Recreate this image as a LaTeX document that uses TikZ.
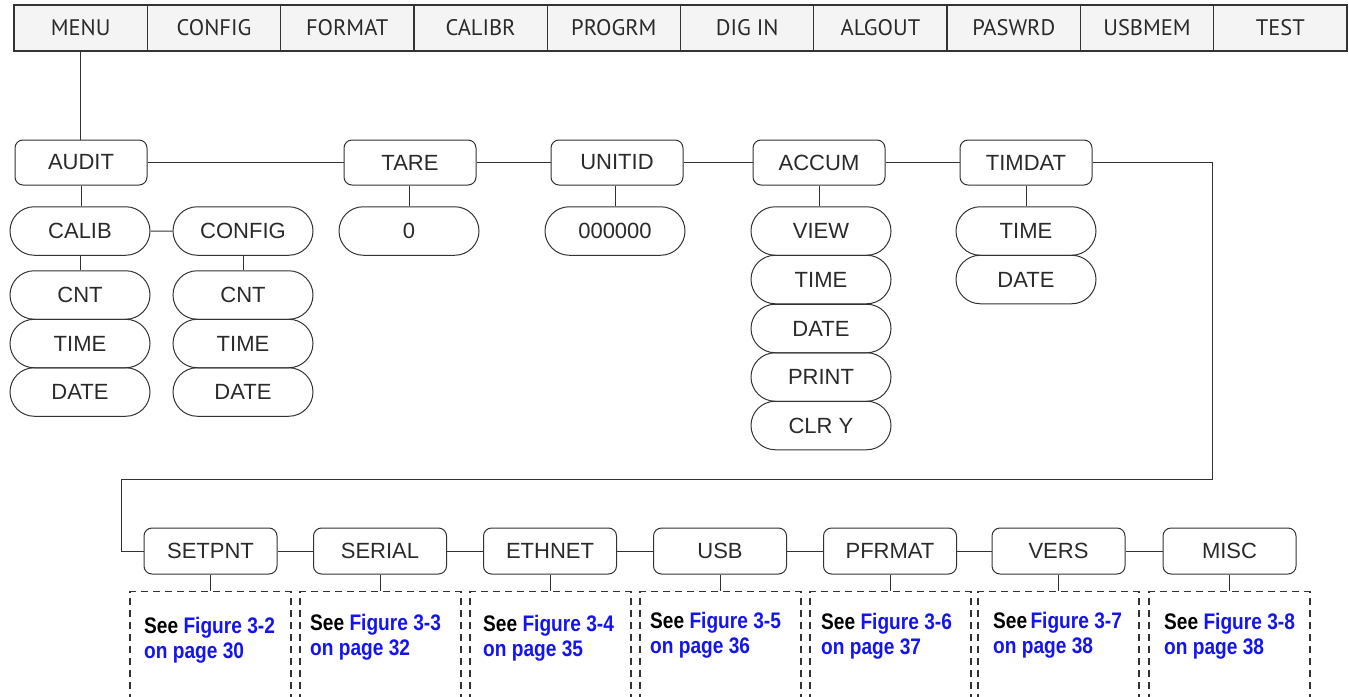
\documentclass[tikz,border=0pt]{standalone}
\usepackage{fontspec}
\setmainfont{Liberation Sans}
\newfontfamily\barfont{PT Sans}
\newfontfamily\seefont[FakeStretch=0.85]{Liberation Sans}
\usetikzlibrary{shapes.misc}
\definecolor{ln}{HTML}{333333}
\definecolor{lnk}{HTML}{1414F0}
\definecolor{barbg}{HTML}{F4F4F4}
\definecolor{txt}{HTML}{2A2A2A}
\begin{document}
\begin{tikzpicture}[x=1pt,y=-1pt,
 cell/.style={draw=ln, line width=1.3pt, fill=barbg, minimum width=133.3pt, minimum height=46pt, inner sep=0pt, font=\barfont\fontsize{22.5}{24}\selectfont, text=txt},
 tbox/.style={draw=ln, line width=1pt, rounded corners=8pt, minimum width=132pt, minimum height=45pt, inner sep=0pt, font=\fontsize{22}{24}\selectfont, text=txt},
 pill/.style={draw=ln, line width=1pt, rounded rectangle, minimum width=140pt, minimum height=48.5pt, inner sep=0pt, font=\fontsize{22}{24}\selectfont, text=txt},
 wire/.style={draw=ln, line width=1pt},
 refbox/.style={draw=ln, dashed, dash pattern=on 7pt off 5pt, line width=1.1pt, minimum width=161pt, minimum height=140pt, anchor=north, inner sep=0pt},
 seetext/.style={anchor=north west, inner sep=0pt, align=left, font=\seefont\bfseries\fontsize{22.5}{25}\selectfont, text=lnk}
]
\useasboundingbox (0,0) rectangle (1349,696);
% top menu bar
\foreach \t [count=\i] in {MENU,CONFIG,FORMAT,CALIBR,PROGRM,DIG IN,ALGOUT,PASWRD,USBMEM,TEST}
  \node[cell] (m\i) at ({14+133.3*(\i-0.5)},28) {\t};
% first level
\node[tbox] (audit)  at (81,162.5)  {AUDIT};
\node[tbox] (tare)   at (410,162.5) {TARE};
\node[tbox] (unitid) at (617,162.5) {UNITID};
\node[tbox] (accum)  at (819,162.5) {ACCUM};
\node[tbox] (timdat) at (1026,162.5) {TIMDAT};
% audit subtree
\node[pill] (calib)  at (80,231)    {CALIB};
\node[pill] (config) at (243,231)   {CONFIG};
\node[pill] (cnta)   at (80,295)    {CNT};
\node[pill] (timea)  at (80,343.5)  {TIME};
\node[pill] (datea)  at (80,392)    {DATE};
\node[pill] (cntb)   at (243,295)   {CNT};
\node[pill] (timeb)  at (243,343.5) {TIME};
\node[pill] (dateb)  at (243,392)   {DATE};
% tare, unitid
\node[pill] (tarev)  at (409,231)   {0};
\node[pill] (unitv)  at (615,231)   {000000};
% accum
\node[pill] (view)   at (821,231)   {VIEW};
\node[pill] (acct)   at (821,279.5) {TIME};
\node[pill] (accd)   at (821,328.5) {DATE};
\node[pill] (accp)   at (821,377)   {PRINT};
\node[pill] (accc)   at (821,425.5) {CLR Y};
% timdat
\node[pill] (tdt)    at (1026,231)  {TIME};
\node[pill] (tdd)    at (1026,279.5) {DATE};
% second row
\node[tbox, minimum width=133pt, minimum height=46pt] (setpnt) at (210.5,551) {SETPNT};
\node[tbox, minimum width=133pt, minimum height=46pt] (serial) at (380,551)   {SERIAL};
\node[tbox, minimum width=133pt, minimum height=46pt] (ethnet) at (550,551)   {ETHNET};
\node[tbox, minimum width=133pt, minimum height=46pt] (usb)    at (720,551)   {USB};
\node[tbox, minimum width=133pt, minimum height=46pt] (pfrmat) at (890,551)   {PFRMAT};
\node[tbox, minimum width=133pt, minimum height=46pt] (vers)   at (1058.5,551) {VERS};
\node[tbox, minimum width=133pt, minimum height=46pt] (misc)   at (1229.5,551) {MISC};
% dashed reference boxes
\begin{scope}
\clip (0,0) rectangle (1349,696);
\node[refbox] (ra) at (210.5,591)  {};
\node[refbox] (rb) at (380.5,591)  {};
\node[refbox] (rc) at (550.5,591)  {};
\node[refbox] (rd) at (720.5,591)  {};
\node[refbox] (re) at (890.5,591)  {};
\node[refbox] (rf) at (1058.5,591) {};
\node[refbox] (rg) at (1229.5,591) {};
\end{scope}
\node[seetext] (ta) at (144,617)  {\textcolor{black}{See} Figure 3-2\\on page 30};
\node[seetext] (tb) at (310,614)  {\textcolor{black}{See} Figure 3-3\\on page 32};
\node[seetext] (tc) at (483,615)  {\textcolor{black}{See} Figure 3-4\\on page 35};
\node[seetext] (td) at (650,612)  {\textcolor{black}{See} Figure 3-5\\on page 36};
\node[seetext] (te) at (821,613)  {\textcolor{black}{See} Figure 3-6\\on page 37};
\node[seetext] (tf) at (993,612)  {\textcolor{black}{See}\hspace{-2pt} Figure 3-7\\on page 38};
\node[seetext] (tg) at (1164,613) {\textcolor{black}{See} Figure 3-8\\on page 38};
% connectors
\draw[wire] (m1.south) -- (m1.south |- audit.north);
\draw[wire] (audit) -- (tare);
\draw[wire] (tare) -- (unitid);
\draw[wire] (unitid) -- (accum);
\draw[wire] (accum) -- (timdat);
\draw[wire] (audit.south) -- (audit.south |- calib.north);
\draw[wire] (calib) -- (config);
\draw[wire] (calib.south) -- (cnta.north);
\draw[wire] (config.south) -- (cntb.north);
\draw[wire] (tarev.north) -- (tarev.north |- tare.south);
\draw[wire] (unitv.north) -- (unitv.north |- unitid.south);
\draw[wire] (accum.south) -- (accum.south |- view.north);
\draw[wire] (timdat.south) -- (tdt.north);
\coordinate (turnA) at (1212,479);
\coordinate (turnB) at (121,479);
\draw[wire] (timdat.east) -| (turnA) -- (turnB) |- (setpnt.west);
\draw[wire] (setpnt) -- (serial);
\draw[wire] (serial) -- (ethnet);
\draw[wire] (ethnet) -- (usb);
\draw[wire] (usb) -- (pfrmat);
\draw[wire] (pfrmat) -- (vers);
\draw[wire] (vers) -- (misc);
\foreach \b/\r in {setpnt/ra,serial/rb,ethnet/rc,usb/rd,pfrmat/re,vers/rf,misc/rg}
  \draw[wire] (\b.south) -- (\b.south |- \r.north);
\end{tikzpicture}
\end{document}
